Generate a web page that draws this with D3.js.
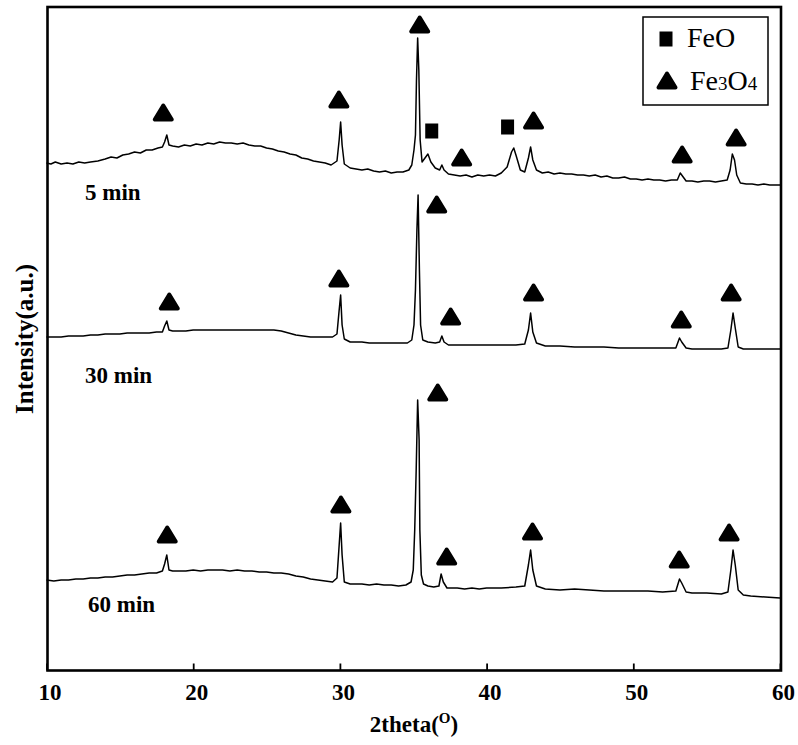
<!DOCTYPE html>
<html><head><meta charset="utf-8">
<script src="https://cdn.jsdelivr.net/npm/d3@7"></script>
<style>body{margin:0;background:#fff}svg{display:block}</style>
</head><body>
<svg id="c" width="798" height="745"></svg>
<script>
// ---- data (2theta in degrees, intensity in a.u., stacked as plotted) ----
const xTicks = [10, 20, 30, 40, 50, 60];
const sampleLabels = ["5 min", "30 min", "60 min"];
const legendLabels = ["FeO", "Fe3O4"];

const trace5 = [[10.0,507],[10.3,506],[10.6,508],[11.0,506],[11.4,507],[11.8,506],[12.2,508],[12.6,507],[13.0,508],[13.5,509],[14.0,511],[14.4,513],[14.8,512],[15.2,515],[15.6,516],[16.0,518],[16.4,517],[16.8,520],[17.2,520],[17.6,522],[17.9,523],[18.05,528],[18.2,535],[18.35,525],[18.6,524],[19.0,523],[19.4,525],[19.8,524],[20.2,526],[20.6,525],[21.0,527],[21.4,526],[21.8,528],[22.2,527],[22.6,527],[23.0,526],[23.4,527],[23.8,525],[24.2,524],[24.6,524],[25.0,522],[25.4,521],[25.8,519],[26.2,518],[26.6,516],[27.0,515],[27.4,512],[27.8,511],[28.2,509],[28.6,508],[29.0,507],[29.4,505],[29.8,509],[29.95,530],[30.05,548],[30.15,525],[30.3,506],[30.7,502],[31.1,501],[31.5,500],[31.9,501],[32.3,499],[32.7,498],[33.1,499],[33.5,497],[33.9,498],[34.3,498],[34.7,500],[34.9,505],[35.05,520],[35.15,535],[35.22,590],[35.3,632],[35.38,600],[35.47,530],[35.6,508],[35.8,512],[36.0,516],[36.2,508],[36.5,502],[36.8,500],[36.95,505],[37.1,500],[37.4,496],[37.8,495],[38.2,494],[38.6,495],[39.0,493],[39.4,495],[39.8,494],[40.2,495],[40.6,494],[41.0,497],[41.4,503],[41.7,518],[41.85,522],[42.0,515],[42.3,500],[42.6,498],[42.85,512],[43.0,523],[43.15,510],[43.4,500],[43.8,497],[44.2,498],[44.6,496],[45.0,497],[45.4,496],[45.8,496],[46.2,495],[46.6,495],[47.0,494],[47.4,495],[47.8,493],[48.2,494],[48.6,492],[49.0,492],[49.4,493],[49.8,491],[50.2,491],[50.6,490],[51.0,491],[51.4,490],[51.8,490],[52.2,489],[52.6,490],[53.0,490],[53.2,497],[53.35,494],[53.6,489],[54.0,489],[54.4,488],[54.8,489],[55.2,489],[55.6,488],[56.0,489],[56.4,490],[56.6,500],[56.75,516],[56.9,510],[57.05,495],[57.3,487],[57.7,486],[58.1,486],[58.5,485],[58.9,486],[59.3,485],[59.7,485],[60.0,485]];

const trace30 = [[10.0,333],[10.5,333],[11.0,333],[11.5,334],[12.0,334],[12.5,334],[13.0,335],[13.5,335],[14.0,336],[14.5,336],[15.0,336],[15.5,337],[16.0,337],[16.5,337],[17.0,337],[17.5,338],[17.9,338],[18.05,344],[18.2,349],[18.35,340],[18.6,339],[19.0,339],[19.5,339],[20.0,340],[20.5,340],[21.0,340],[21.5,340],[22.0,340],[22.5,340],[23.0,340],[23.5,340],[24.0,340],[24.5,340],[25.0,340],[25.5,340],[26.0,339],[26.5,337],[27.0,335],[27.5,334],[28.0,333],[28.5,333],[29.0,333],[29.5,333],[29.8,336],[29.95,360],[30.05,375],[30.15,345],[30.3,331],[30.7,328],[31.5,328],[32.0,327],[33.0,327],[34.0,327],[34.6,327],[34.9,330],[35.05,345],[35.15,380],[35.25,440],[35.33,475],[35.42,400],[35.5,345],[35.65,330],[36.0,328],[36.5,327],[36.8,328],[36.95,334],[37.1,328],[37.4,325],[38.0,325],[39.0,325],[40.0,325],[41.0,325],[42.0,325],[42.6,326],[42.85,340],[43.0,357],[43.15,338],[43.4,327],[44.0,324],[45.0,324],[46.0,323],[47.0,323],[48.0,323],[49.0,322],[50.0,322],[51.0,322],[52.0,322],[52.9,322],[53.15,332],[53.3,328],[53.6,322],[54.0,321],[55.0,321],[56.0,321],[56.45,322],[56.65,340],[56.8,357],[56.95,342],[57.15,323],[57.5,321],[58.0,321],[59.0,321],[60.0,321]];

const trace60 = [[10.0,90],[10.5,89],[11.0,90],[11.5,90],[12.0,91],[12.5,91],[13.0,92],[13.5,92],[14.0,93],[14.5,93],[15.0,94],[15.5,95],[16.0,95],[16.5,96],[17.0,97],[17.5,97],[17.9,99],[18.05,106],[18.2,115],[18.35,100],[18.6,99],[19.0,99],[19.5,99],[20.0,100],[20.5,99],[21.0,100],[21.5,100],[22.0,100],[22.5,99],[23.0,100],[23.5,99],[24.0,99],[24.5,98],[25.0,98],[25.5,97],[26.0,97],[26.5,96],[27.0,94],[27.5,93],[28.0,91],[28.5,90],[29.0,89],[29.5,88],[29.8,92],[29.95,125],[30.05,147],[30.15,115],[30.3,88],[30.7,86],[31.5,86],[32.0,85],[32.5,86],[33.0,85],[33.5,85],[34.0,84],[34.5,85],[34.85,88],[35.0,100],[35.1,140],[35.2,200],[35.3,270],[35.4,230],[35.45,140],[35.55,95],[35.7,86],[36.0,84],[36.4,83],[36.75,84],[36.9,96],[37.05,88],[37.3,82],[38.0,82],[38.5,81],[39.0,82],[39.5,81],[40.0,82],[41.0,82],[42.0,83],[42.6,84],[42.85,105],[43.0,120],[43.15,100],[43.4,84],[44.0,81],[45.0,80],[46.0,81],[47.0,80],[48.0,79],[49.0,79],[50.0,79],[51.0,79],[52.0,78],[52.9,79],[53.15,91],[53.3,87],[53.6,78],[54.0,77],[55.0,77],[56.0,76],[56.45,78],[56.65,100],[56.8,120],[56.95,105],[57.15,80],[57.5,75],[58.0,74],[59.0,73],[60.0,72]];

// phase markers: [2theta, intensity, phase]  (phase: "FeO" square, "Fe3O4" triangle)
const markers5 = [[17.96,557,"Fe3O4"],[29.93,570,"Fe3O4"],[35.44,645,"Fe3O4"],[36.26,539,"FeO"],[38.30,512,"Fe3O4"],[41.43,543,"FeO"],[43.20,549,"Fe3O4"],[53.33,515,"Fe3O4"],[57.01,532,"Fe3O4"]];
const markers30 = [[18.37,368,"Fe3O4"],[29.93,391,"Fe3O4"],[36.60,465,"Fe3O4"],[37.55,353,"Fe3O4"],[43.20,377,"Fe3O4"],[53.27,350,"Fe3O4"],[56.67,377,"Fe3O4"]];
const markers60 = [[18.23,135,"Fe3O4"],[30.07,165,"Fe3O4"],[36.67,277,"Fe3O4"],[37.28,113,"Fe3O4"],[43.13,138,"Fe3O4"],[53.13,110,"Fe3O4"],[56.53,137,"Fe3O4"]];

// ---- drawing ----
const svg = d3.select("#c");
const L = 47.5, R = 781, T = 7, B = 670.5;
const x = d3.scaleLinear().domain([10, 60]).range([46.5, 780]);
const y = d3.scaleLinear().domain([0, 664]).range([670, 6]);
const serif = "'Liberation Serif','Times New Roman',serif";

const line = d3.line().x(d => x(d[0])).y(d => y(d[1]));
[trace5, trace30, trace60].forEach(tr => {
  svg.append("path").datum(tr).attr("d", line)
    .attr("fill", "none").attr("stroke", "#000").attr("stroke-width", 1.5)
    .attr("stroke-linejoin", "round");
});

const triPath = "M0,-7.5L-8.5,6.5L8.5,6.5Z";
function drawMarker(g, phase, cx, cy) {
  if (phase === "FeO") {
    g.append("rect").attr("x", cx - 6.5).attr("y", cy - 7.5).attr("width", 13).attr("height", 15).attr("fill", "#000");
  } else {
    g.append("path").attr("d", triPath).attr("transform", `translate(${cx},${cy})`)
      .attr("fill", "#000").attr("stroke", "#000").attr("stroke-width", 4).attr("stroke-linejoin", "round");
  }
}
const mg = svg.append("g");
[markers5, markers30, markers60].forEach(ms => ms.forEach(m => drawMarker(mg, m[2], x(m[0]), y(m[1]))));

// frame
svg.append("rect").attr("x", L).attr("y", T).attr("width", R - L).attr("height", B - T)
  .attr("fill", "none").attr("stroke", "#000").attr("stroke-width", 2.6);

// x axis ticks (inward) and labels
const ax = svg.append("g").attr("transform", `translate(0,${B})`)
  .call(d3.axisBottom(x).tickValues(xTicks).tickSize(-7).tickPadding(0).tickFormat(d3.format("d")));
ax.select(".domain").remove();
ax.selectAll(".tick line").attr("stroke", "#000").attr("stroke-width", 1.8);
ax.selectAll(".tick text").attr("y", 0).attr("dy", 0).attr("transform", "translate(3,29.5)")
  .attr("font-family", serif).attr("font-weight", "bold").attr("font-size", 23).attr("fill", "#000");

// axis titles
const xt = svg.append("text").attr("x", 414).attr("y", 732).attr("text-anchor", "middle")
  .attr("font-family", serif).attr("font-weight", "bold").attr("font-size", 23).attr("fill", "#000");
xt.append("tspan").text("2theta(");
xt.append("tspan").text("O").attr("font-size", 15).attr("dy", -9);
xt.append("tspan").text(")").attr("dy", 9);

svg.append("text").attr("transform", "translate(33,339) rotate(-90)").attr("text-anchor", "middle")
  .attr("font-family", serif).attr("font-weight", "bold").attr("font-size", 25).attr("fill", "#000")
  .attr("textLength", 150).attr("lengthAdjust", "spacingAndGlyphs")
  .text("Intensity(a.u.)");

// sample labels
const labelPos = [[85, 200], [85, 383], [88, 612]];
sampleLabels.forEach((s, i) => {
  svg.append("text").attr("x", labelPos[i][0]).attr("y", labelPos[i][1])
    .attr("font-family", serif).attr("font-weight", "bold").attr("font-size", 23).attr("fill", "#000").text(s);
});

// legend
svg.append("rect").attr("x", 643).attr("y", 17).attr("width", 125).attr("height", 88)
  .attr("fill", "#fff").attr("stroke", "#000").attr("stroke-width", 1.5);
drawMarker(svg, "FeO", 666, 39);
drawMarker(svg, "Fe3O4", 667, 81);
svg.append("text").attr("x", 687).attr("y", 47).attr("font-family", serif).attr("font-size", 28)
  .attr("fill", "#000").text(legendLabels[0]);
const lt = svg.append("text").attr("x", 690).attr("y", 90).attr("font-family", serif).attr("font-size", 28).attr("fill", "#000");
lt.append("tspan").text("Fe");
lt.append("tspan").text("3").attr("font-size", 19);
lt.append("tspan").text("O");
lt.append("tspan").text("4").attr("font-size", 19);
</script>
</body></html>
